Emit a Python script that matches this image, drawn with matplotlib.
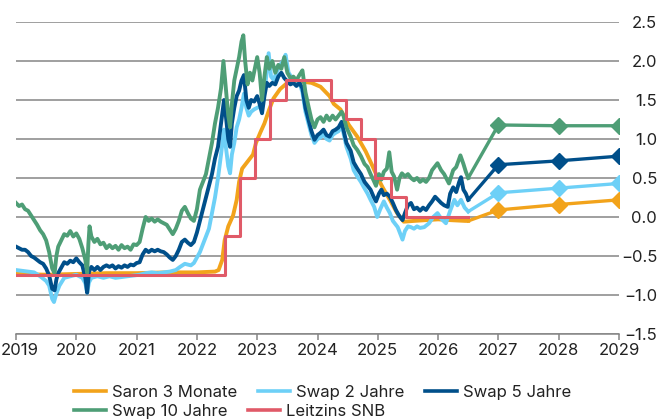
import matplotlib
matplotlib.use("Agg")
import matplotlib.pyplot as plt
from matplotlib.lines import Line2D
from matplotlib.transforms import ScaledTranslation

plt.rcParams['font.family'] = ['Inter', 'DejaVu Sans']

# ---------------- data ----------------
years_ticks = list(range(2019, 2030))
y_ticks = [-1.5, -1.0, -0.5, 0.0, 0.5, 1.0, 1.5, 2.0, 2.5]

snb_x = [2019.0, 2022.46, 2022.72, 2022.97, 2023.22, 2023.47, 2024.22, 2024.47, 2024.72, 2024.96, 2025.22, 2025.47, 2026.5]
snb_y = [-0.75, -0.25, 0.5, 1.0, 1.5, 1.75, 1.5, 1.25, 1.0, 0.5, 0.25, 0.0, 0.0]

saron_x = [2019.0, 2019.5, 2020.0, 2020.5, 2021.0, 2021.5, 2022.0, 2022.3, 2022.36, 2022.42, 2022.46, 2022.52,
           2022.6, 2022.66, 2022.7, 2022.75, 2022.85, 2022.93, 2022.98, 2023.05, 2023.12, 2023.2, 2023.27,
           2023.38, 2023.5, 2023.7, 2023.9, 2024.05, 2024.2, 2024.27, 2024.38, 2024.52, 2024.66, 2024.8,
           2024.92, 2025.0, 2025.08, 2025.2, 2025.32, 2025.43, 2025.6, 2025.8, 2026.0, 2026.2, 2026.45, 2026.5]
saron_y = [-0.73, -0.74, -0.73, -0.72, -0.72, -0.71, -0.71, -0.70, -0.68, -0.55, -0.30, -0.12,
           0.02, 0.22, 0.45, 0.62, 0.72, 0.80, 0.95, 1.08, 1.20, 1.38, 1.52,
           1.64, 1.72, 1.74, 1.72, 1.67, 1.55, 1.45, 1.38, 1.18, 1.03, 0.84,
           0.64, 0.50, 0.38, 0.22, 0.05, -0.06, -0.05, -0.04, -0.03, -0.04, -0.05, -0.05]

swap2_x = [2019.00, 2019.10, 2019.20, 2019.30, 2019.40, 2019.50, 2019.55, 2019.60, 2019.63, 2019.67, 2019.72,
           2019.80, 2019.90, 2020.00, 2020.10, 2020.15, 2020.18, 2020.21, 2020.25, 2020.35, 2020.45, 2020.55,
           2020.65, 2020.75, 2020.85, 2020.95, 2021.05, 2021.15, 2021.25, 2021.35, 2021.45, 2021.55, 2021.65,
           2021.72, 2021.80, 2021.90, 2021.95, 2022.00, 2022.05, 2022.10, 2022.15, 2022.20, 2022.25, 2022.30,
           2022.35, 2022.40, 2022.45, 2022.48, 2022.52, 2022.55, 2022.58, 2022.62, 2022.66, 2022.70, 2022.74,
           2022.78, 2022.82, 2022.86, 2022.90, 2022.95, 2023.00, 2023.05, 2023.10, 2023.15, 2023.19, 2023.23,
           2023.27, 2023.32, 2023.38, 2023.43, 2023.47, 2023.52, 2023.58, 2023.65, 2023.70, 2023.75, 2023.80,
           2023.85, 2023.90, 2023.95, 2024.00, 2024.05, 2024.10, 2024.15, 2024.20, 2024.25, 2024.30, 2024.35,
           2024.40, 2024.43, 2024.48, 2024.55, 2024.60, 2024.66, 2024.72, 2024.77, 2024.83, 2024.88, 2024.94,
           2024.99, 2025.04, 2025.10, 2025.15, 2025.20, 2025.25, 2025.33, 2025.41, 2025.45, 2025.50, 2025.55,
           2025.60, 2025.65, 2025.70, 2025.77, 2025.85, 2025.92, 2025.99, 2026.05, 2026.13, 2026.20, 2026.27,
           2026.32, 2026.38, 2026.44, 2026.50]
swap2_y = [-0.68, -0.69, -0.70, -0.71, -0.76, -0.82, -0.88, -1.05, -1.09, -0.98, -0.88,
           -0.78, -0.76, -0.74, -0.78, -0.85, -0.97, -0.84, -0.78, -0.76, -0.78, -0.76,
           -0.78, -0.77, -0.76, -0.75, -0.74, -0.72, -0.71, -0.72, -0.71, -0.70, -0.68,
           -0.64, -0.60, -0.62, -0.59, -0.52, -0.45, -0.35, -0.25, -0.15, 0.05, 0.25,
           0.50, 0.80, 1.12, 0.90, 0.65, 0.56, 0.80, 0.95, 1.15, 1.25, 1.40,
           1.58, 1.40, 1.30, 1.35, 1.38, 1.40, 1.42, 1.50, 1.80, 2.10, 1.80,
           1.76, 1.85, 1.95, 2.00, 2.08, 1.85, 1.78, 1.75, 1.72, 1.60, 1.35,
           1.20, 1.05, 0.95, 1.00, 1.02, 1.06, 1.00, 0.98, 1.05, 1.08, 1.10,
           1.18, 1.08, 0.90, 0.75, 0.60, 0.52, 0.45, 0.38, 0.30, 0.22, 0.13,
           0.00, 0.10, 0.20, 0.12, 0.05, -0.05, -0.13, -0.29, -0.18, -0.12, -0.13,
           -0.15, -0.12, -0.14, -0.13, -0.08, 0.00, 0.05, -0.02, -0.08, 0.08, 0.22,
           0.15, 0.22, 0.12, 0.07]

swap5_x = [2019.00, 2019.05, 2019.10, 2019.15, 2019.20, 2019.25, 2019.30, 2019.35, 2019.40, 2019.45, 2019.50,
           2019.55, 2019.60, 2019.64, 2019.67, 2019.70, 2019.75, 2019.80, 2019.85, 2019.90, 2019.95, 2020.00,
           2020.05, 2020.10, 2020.15, 2020.18, 2020.21, 2020.25, 2020.30, 2020.35, 2020.40, 2020.45, 2020.50,
           2020.55, 2020.60, 2020.65, 2020.70, 2020.75, 2020.80, 2020.85, 2020.90, 2020.95, 2021.00, 2021.05,
           2021.10, 2021.15, 2021.20, 2021.25, 2021.30, 2021.35, 2021.40, 2021.45, 2021.50, 2021.55, 2021.60,
           2021.65, 2021.70, 2021.75, 2021.80, 2021.85, 2021.90, 2021.95, 2022.00, 2022.05, 2022.10, 2022.15,
           2022.20, 2022.25, 2022.30, 2022.35, 2022.40, 2022.45, 2022.48, 2022.52, 2022.55, 2022.58, 2022.62,
           2022.66, 2022.70, 2022.74, 2022.78, 2022.82, 2022.86, 2022.90, 2022.95, 2023.00, 2023.04, 2023.08,
           2023.12, 2023.16, 2023.20, 2023.25, 2023.30, 2023.35, 2023.40, 2023.45, 2023.50, 2023.55, 2023.60,
           2023.65, 2023.70, 2023.75, 2023.80, 2023.85, 2023.90, 2023.95, 2024.00, 2024.05, 2024.10, 2024.15,
           2024.20, 2024.25, 2024.30, 2024.35, 2024.40, 2024.43, 2024.48, 2024.55, 2024.60, 2024.66, 2024.72,
           2024.78, 2024.83, 2024.88, 2024.93, 2024.97, 2025.02, 2025.06, 2025.10, 2025.15, 2025.20, 2025.25,
           2025.30, 2025.35, 2025.41, 2025.45, 2025.50, 2025.55, 2025.60, 2025.65, 2025.70, 2025.75, 2025.80,
           2025.85, 2025.90, 2025.95, 2026.00, 2026.05, 2026.10, 2026.16, 2026.20, 2026.25, 2026.30, 2026.35,
           2026.38, 2026.42, 2026.46, 2026.50]
swap5_y = [-0.38, -0.40, -0.42, -0.42, -0.45, -0.50, -0.52, -0.55, -0.58, -0.60, -0.66,
           -0.75, -0.92, -0.94, -0.80, -0.72, -0.65, -0.58, -0.60, -0.56, -0.58, -0.53,
           -0.58, -0.62, -0.78, -0.97, -0.70, -0.64, -0.68, -0.64, -0.68, -0.64, -0.62,
           -0.64, -0.62, -0.66, -0.63, -0.65, -0.62, -0.64, -0.61, -0.62, -0.59, -0.58,
           -0.48, -0.42, -0.45, -0.42, -0.44, -0.42, -0.44, -0.45, -0.48, -0.52, -0.55,
           -0.50, -0.42, -0.32, -0.29, -0.33, -0.36, -0.32, -0.20, -0.05, 0.10, 0.25,
           0.40, 0.55, 0.75, 0.90, 1.20, 1.50, 1.30, 1.00, 0.90, 1.20, 1.40,
           1.55, 1.62, 1.75, 1.82, 1.50, 1.40, 1.50, 1.48, 1.55, 1.45, 1.33,
           1.55, 1.72, 1.68, 1.72, 1.70, 1.80, 1.85, 1.78, 1.74, 1.70, 1.72,
           1.68, 1.72, 1.65, 1.40, 1.25, 1.10, 0.99, 1.05, 1.08, 1.12, 1.05,
           1.03, 1.10, 1.12, 1.15, 1.22, 1.12, 0.95, 0.85, 0.70, 0.62, 0.55,
           0.45, 0.40, 0.35, 0.26, 0.20, 0.30, 0.35, 0.28, 0.30, 0.26, 0.18,
           0.09, 0.02, -0.04, 0.05, 0.15, 0.18, 0.10, 0.12, 0.08, 0.12, 0.09,
           0.15, 0.20, 0.26, 0.22, 0.18, 0.15, 0.13, 0.30, 0.38, 0.32, 0.45,
           0.51, 0.35, 0.30, 0.22]

swap10_x = [2019.00, 2019.05, 2019.10, 2019.15, 2019.20, 2019.25, 2019.30, 2019.35, 2019.40, 2019.45, 2019.50,
            2019.55, 2019.60, 2019.64, 2019.67, 2019.70, 2019.75, 2019.80, 2019.85, 2019.90, 2019.95, 2020.00,
            2020.05, 2020.10, 2020.15, 2020.18, 2020.20, 2020.22, 2020.25, 2020.30, 2020.35, 2020.40, 2020.45,
            2020.50, 2020.55, 2020.60, 2020.65, 2020.70, 2020.75, 2020.80, 2020.85, 2020.90, 2020.95, 2021.00,
            2021.05, 2021.10, 2021.15, 2021.20, 2021.25, 2021.30, 2021.35, 2021.40, 2021.45, 2021.50, 2021.55,
            2021.60, 2021.65, 2021.70, 2021.75, 2021.80, 2021.85, 2021.90, 2021.95, 2022.00, 2022.05, 2022.10,
            2022.15, 2022.20, 2022.25, 2022.30, 2022.35, 2022.40, 2022.44, 2022.48, 2022.52, 2022.55, 2022.58,
            2022.62, 2022.66, 2022.70, 2022.74, 2022.77, 2022.80, 2022.84, 2022.88, 2022.92, 2022.96, 2023.00,
            2023.04, 2023.08, 2023.12, 2023.16, 2023.20, 2023.25, 2023.30, 2023.35, 2023.40, 2023.45, 2023.50,
            2023.55, 2023.60, 2023.65, 2023.70, 2023.75, 2023.80, 2023.85, 2023.90, 2023.95, 2024.00, 2024.05,
            2024.10, 2024.15, 2024.20, 2024.25, 2024.30, 2024.35, 2024.40, 2024.43, 2024.48, 2024.55, 2024.60,
            2024.66, 2024.72, 2024.78, 2024.83, 2024.88, 2024.93, 2024.97, 2025.02, 2025.06, 2025.10, 2025.15,
            2025.19, 2025.23, 2025.27, 2025.32, 2025.36, 2025.40, 2025.45, 2025.50, 2025.55, 2025.60, 2025.65,
            2025.70, 2025.75, 2025.80, 2025.85, 2025.90, 2025.99, 2026.05, 2026.10, 2026.18, 2026.25, 2026.30,
            2026.37, 2026.42, 2026.46, 2026.50]
swap10_y = [0.18, 0.14, 0.16, 0.10, 0.08, 0.02, -0.04, -0.10, -0.17, -0.22, -0.30,
            -0.45, -0.66, -0.72, -0.50, -0.38, -0.30, -0.22, -0.24, -0.18, -0.25, -0.21,
            -0.28, -0.40, -0.55, -0.72, -0.35, -0.12, -0.25, -0.32, -0.28, -0.35, -0.33,
            -0.40, -0.36, -0.40, -0.37, -0.42, -0.36, -0.40, -0.38, -0.42, -0.35, -0.36,
            -0.32, -0.15, 0.00, -0.05, -0.02, -0.06, -0.03, -0.06, -0.08, -0.10, -0.16,
            -0.22, -0.15, -0.05, 0.08, 0.13, 0.05, -0.02, -0.05, 0.10, 0.35, 0.45,
            0.55, 0.75, 0.95, 1.20, 1.40, 1.65, 2.00, 1.65, 1.30, 1.15, 1.45,
            1.75, 1.90, 2.05, 2.25, 2.33, 2.00, 1.70, 1.85, 1.75, 1.90, 2.05,
            1.85, 1.50, 1.80, 2.05, 1.90, 2.00, 1.85, 1.95, 1.90, 2.05, 1.85,
            1.78, 1.80, 1.75, 1.82, 1.88, 1.60, 1.42, 1.25, 1.15, 1.25, 1.28,
            1.22, 1.30, 1.24, 1.30, 1.25, 1.30, 1.35, 1.30, 1.15, 1.03, 0.92,
            0.86, 0.78, 0.68, 0.64, 0.55, 0.47, 0.40, 0.55, 0.48, 0.58, 0.62,
            0.83, 0.58, 0.52, 0.35, 0.50, 0.56, 0.52, 0.55, 0.50, 0.47, 0.50,
            0.45, 0.48, 0.45, 0.50, 0.60, 0.69, 0.60, 0.55, 0.43, 0.60, 0.64,
            0.79, 0.68, 0.58, 0.50]

fc_years = [2027, 2028, 2029]
saron_fc = [0.09, 0.16, 0.22]
swap2_fc = [0.31, 0.37, 0.43]
swap5_fc = [0.67, 0.72, 0.78]
swap10_fc = [1.18, 1.17, 1.17]

labels = ["Saron 3 Monate", "Swap 2 Jahre", "Swap 5 Jahre", "Swap 10 Jahre", "Leitzins SNB"]
colors = ["#F2A31B", "#6DD0F7", "#004F8A", "#4E9E76", "#E05A68"]

# ---------------- figure ----------------
W, H = 659, 419
fig = plt.figure(figsize=(W / 100, H / 100), dpi=100)
ax = fig.add_axes([16 / W, 85 / H, 603 / W, 312 / H])

grid_c = "#858585"
for v in y_ticks:
    ax.axhline(v, color=grid_c, lw=1.1, zorder=1)

hist = [(saron_x, saron_y, saron_fc), (swap2_x, swap2_y, swap2_fc),
        (swap5_x, swap5_y, swap5_fc), (swap10_x, swap10_y, swap10_fc)]
for i, (hx, hy, fc) in enumerate(hist):
    c = colors[i]
    ax.plot(hx, hy, color=c, lw=2.8, solid_joinstyle='round', zorder=3 + i)
    ax.plot([hx[-1]] + fc_years, [hy[-1]] + fc, color=c, lw=2.4, zorder=3 + i)
    ax.plot(fc_years, fc, linestyle='none', marker='D', markersize=8, color=c, zorder=3 + i)

ax.plot(snb_x, snb_y, drawstyle='steps-post', color=colors[4], lw=2.2, zorder=8)

ax.set_xlim(2019, 2029)
ax.set_ylim(-1.5, 2.5)
for s in ["top", "left", "right"]:
    ax.spines[s].set_visible(False)
ax.spines["bottom"].set_color(grid_c)
ax.spines["bottom"].set_linewidth(1.1)

ax.set_xticks(years_ticks)
ax.set_xticklabels([str(y) for y in years_ticks])
ax.tick_params(axis='x', length=4, width=1.1, color=grid_c, pad=2.5, labelsize=12, labelcolor="#222222")
first = ax.get_xticklabels()[0]
first.set_transform(first.get_transform() + ScaledTranslation(4 / 100, 0, fig.dpi_scale_trans))

ax.yaxis.tick_right()
ax.set_yticks(y_ticks)
ax.set_yticklabels([f"{v:.1f}".replace("-", "\u2212") for v in y_ticks])
ax.tick_params(axis='y', length=0, pad=27.5, labelsize=12, labelcolor="#222222")
for t in ax.get_yticklabels():
    t.set_horizontalalignment('right')

# ---------------- legend ----------------
fs = 12
handles = [Line2D([], [], color=c, lw=2.6) for c in colors]
kw = dict(frameon=False, fontsize=fs, handlelength=23 / fs, handletextpad=4.3 / fs,
          columnspacing=15 / fs, borderpad=0, borderaxespad=0, loc='center left', labelcolor="#222222")
leg1 = fig.legend(handles[:3], labels[:3], ncol=3, bbox_to_anchor=(74 / W, 1 - 392 / H), **kw)
leg2 = fig.legend(handles[3:], labels[3:], ncol=2, bbox_to_anchor=(74 / W, 1 - 411 / H), **kw)

fig.savefig("out.png", dpi=100)
